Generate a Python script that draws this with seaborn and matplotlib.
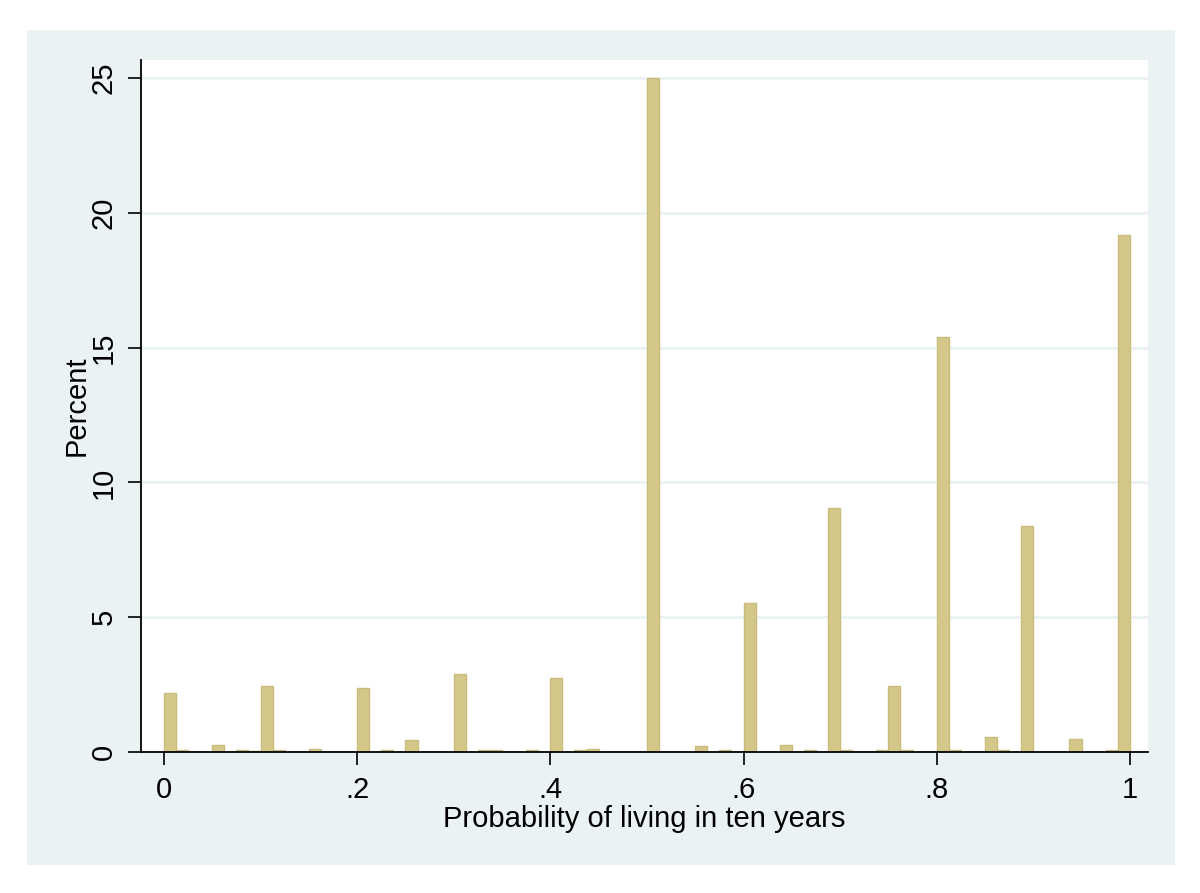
import numpy as np
import matplotlib
matplotlib.use("Agg")
import matplotlib.pyplot as plt
import seaborn as sns
from matplotlib.patches import Rectangle

# Reported probabilities (stored as float, like Stata) and percent of respondents
prob_values = [0.0, 0.02, 0.05, 0.08, 0.09, 0.1, 0.12, 0.15, 0.2, 0.23,
               0.25, 0.3, 0.33, 0.34, 0.38, 0.4, 0.43, 0.44, 0.5, 0.55,
               0.58, 0.6, 0.64, 0.67, 0.7, 0.71, 0.74, 0.75, 0.77, 0.8,
               0.82, 0.85, 0.87, 0.9, 0.95, 0.98, 1.0]
percent = [2.18, 0.06, 0.26, 0.07, 0.05, 2.45, 0.06, 0.10, 2.37, 0.06,
           0.45, 2.88, 0.06, 0.06, 0.06, 2.75, 0.06, 0.10, 25.0, 0.22,
           0.06, 5.52, 0.26, 0.06, 9.05, 0.06, 0.06, 2.45, 0.06, 15.40,
           0.06, 0.54, 0.06, 8.37, 0.48, 0.06, 19.18]

x_ticks = [0, 0.2, 0.4, 0.6, 0.8, 1.0]
x_ticklabels = ["0", ".2", ".4", ".6", ".8", "1"]
y_ticks = [0, 5, 10, 15, 20, 25]

sns.set_style("white")
plt.rcParams["font.family"] = ["Liberation Sans", "DejaVu Sans"]
plt.rcParams["text.color"] = "black"
plt.rcParams["axes.labelcolor"] = "black"
plt.rcParams["xtick.color"] = "black"
plt.rcParams["ytick.color"] = "black"

fig = plt.figure(figsize=(12, 8.93), dpi=100, facecolor="white")
# Stata-like graph region behind the plot
fig.patches.append(Rectangle((27 / 1200, 28 / 893), (1175 - 27) / 1200, (863 - 28) / 893,
                             transform=fig.transFigure, facecolor="#EAF2F3",
                             edgecolor="none", zorder=-10))

ax = fig.add_axes([141 / 1200, 141 / 893, (1148 - 141) / 1200, (752 - 60) / 893])
ax.set_zorder(5)
ax.set_facecolor("white")

sns.histplot(x=np.array(prob_values, dtype=np.float32).astype(float), weights=percent,
             bins=80, binrange=(0, 1), stat="count", ax=ax,
             color="#D4C78A", edgecolor="#C9BC78", linewidth=1.0, alpha=1, shrink=1)

ax.set_xlim(-0.0238, 1.0188)
ax.set_ylim(0, 25.67)
ax.set_xticks(x_ticks)
ax.set_xticklabels(x_ticklabels)
ax.set_yticks(y_ticks)
ax.set_yticklabels([str(t) for t in y_ticks], rotation=90, va="center")

for y in y_ticks[1:]:
    ax.axhline(y, color="#EAF2F3", linewidth=2, zorder=0)

for side in ["top", "right"]:
    ax.spines[side].set_visible(False)
for side in ["left", "bottom"]:
    ax.spines[side].set_color("black")
    ax.spines[side].set_linewidth(1.3)

ax.tick_params(axis="both", direction="out", length=9.5, width=1.2, color="black",
               labelcolor="black", labelsize=21, pad=7.5, left=True, bottom=True)
ax.set_xlabel("Probability of living in ten years", fontsize=21, labelpad=1)
ax.set_ylabel("Percent", fontsize=21)
ax.yaxis.set_label_coords(-0.05, 0.5)

fig.savefig("out.png", dpi=100, facecolor="white")
